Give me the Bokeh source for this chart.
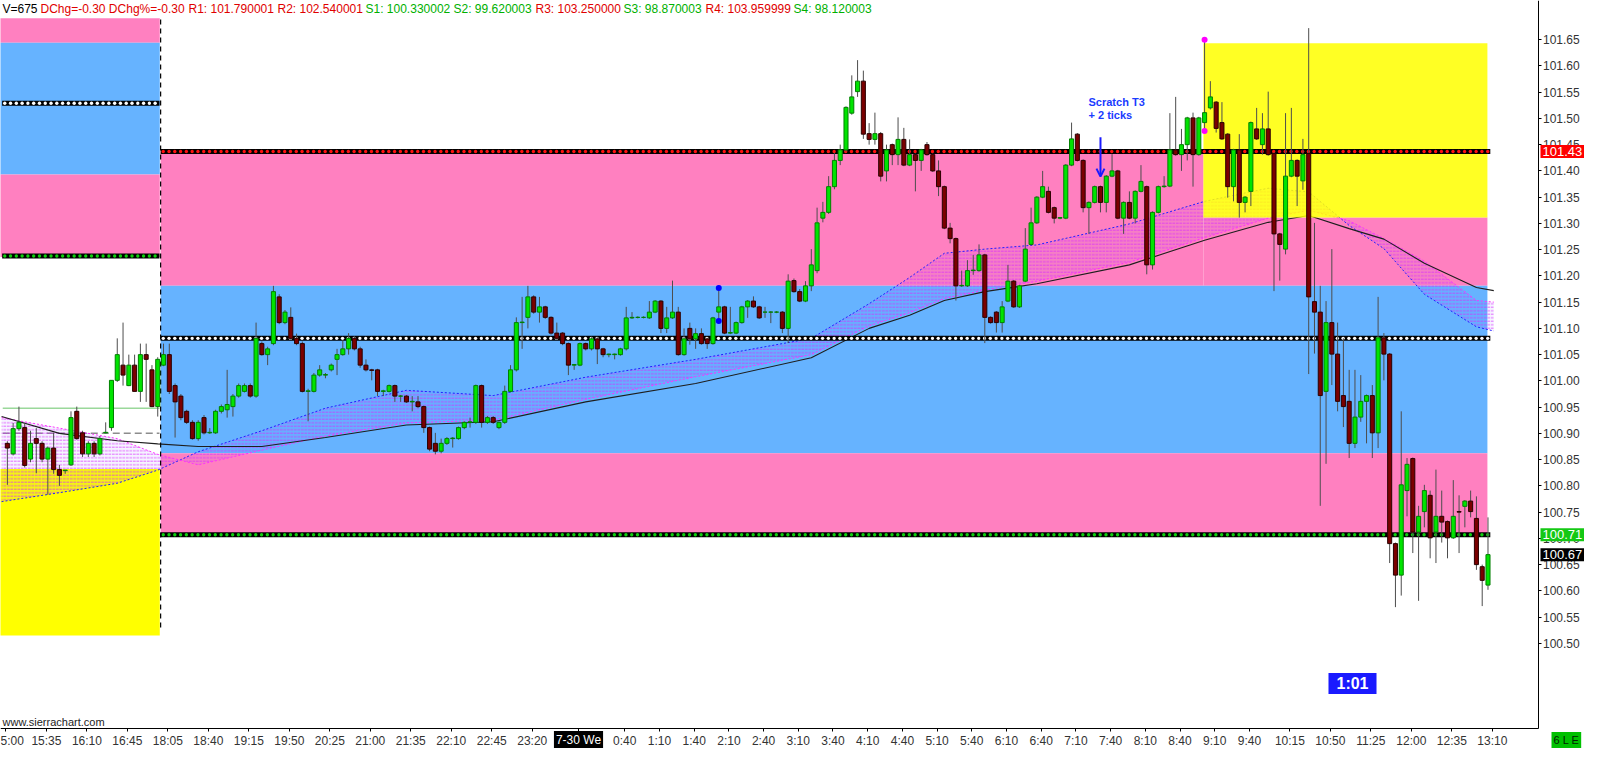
import numpy as np
from bokeh.plotting import figure
from bokeh.models import (ColumnDataSource, Range1d, FixedTicker, NumeralTickFormatter,
                          LinearAxis, Label, Arrow, OpenHead)
from bokeh.embed import file_html
from bokeh.resources import INLINE

# ---------------------------------------------------------------- data
# 5 minute bars, index 0 = 15:35 of the previous session
bar_index = list(range(-6, 251))

opens = [
    # -6 .. 20 (previous session)
    100.881, 100.861, 100.909, 100.911, 100.851, 100.890, 100.881, 100.851, 100.872, 100.831,
    100.829, 100.840, 100.942, 100.901, 100.861, 100.881, 100.861, 100.901, 100.911, 101.001,
    101.030, 100.991, 101.030, 100.980, 101.050, 101.021, 100.951,
    # 21 .. 49
    101.030, 101.050, 100.991, 100.971, 100.942, 100.921, 100.890, 100.930, 100.901, 100.901,
    100.942, 100.945, 100.951, 100.971, 100.980, 100.991, 100.971, 101.071, 101.050, 101.071,
    101.160, 101.111, 101.121, 101.081, 101.071, 100.980, 100.980, 101.011, 101.011,
    # 50 .. 93
    101.021, 101.041, 101.050, 101.061, 101.081, 101.061, 101.030, 101.021, 101.021, 100.980,
    100.980, 100.991, 100.971, 100.971, 100.960, 100.960, 100.951, 100.911, 100.881, 100.866,
    100.881, 100.890, 100.890, 100.911, 100.921, 100.921, 100.991, 100.921, 100.930, 100.911,
    100.921, 100.980, 101.021, 101.111, 101.121, 101.160, 101.131, 101.141, 101.121, 101.091,
    101.091, 101.071, 101.030, 101.030,
    # 94 .. 133
    101.071, 101.061, 101.080, 101.061, 101.050, 101.050, 101.050, 101.061, 101.120, 101.121,
    101.121, 101.120, 101.131, 101.152, 101.100, 101.120, 101.131, 101.050, 101.100, 101.080,
    101.090, 101.080, 101.071, 101.131, 101.141, 101.091, 101.091, 101.111, 101.141, 101.152,
    101.141, 101.131, 101.131, 101.131, 101.131, 101.100, 101.191, 101.170, 101.152, 101.181,
    # 134 .. 172
    101.210, 101.310, 101.321, 101.370, 101.420, 101.440, 101.510, 101.551, 101.571, 101.471,
    101.460, 101.471, 101.400, 101.450, 101.431, 101.460, 101.411, 101.431, 101.420, 101.450,
    101.431, 101.400, 101.370, 101.291, 101.271, 101.181, 101.181, 101.210, 101.210, 101.240,
    101.121, 101.131, 101.111, 101.152, 101.190, 101.141, 101.190, 101.260, 101.301,
    # 173 .. 215
    101.350, 101.361, 101.330, 101.310, 101.310, 101.411, 101.470, 101.420, 101.330, 101.340,
    101.370, 101.340, 101.390, 101.400, 101.310, 101.340, 101.310, 101.361, 101.370, 101.221,
    101.321, 101.370, 101.371, 101.440, 101.431, 101.450, 101.501, 101.431, 101.492, 101.520,
    101.531, 101.492, 101.470, 101.370, 101.440, 101.340, 101.361, 101.480, 101.450, 101.480,
    101.433, 101.280, 101.251,
    # 216 .. 250
    101.390, 101.420, 101.381, 101.433, 101.151, 101.131, 100.980, 101.111, 101.051, 100.972,
    100.961, 100.881, 100.931, 100.961, 100.972, 100.901, 101.082, 101.051, 100.690, 100.630,
    100.791, 100.852, 100.712, 100.751, 100.782, 100.712, 100.742, 100.732, 100.701, 100.751,
    100.761, 100.771, 100.738, 100.646, 100.611,
]

highs = [
    100.885, 100.920, 100.951, 100.920, 100.905, 100.910, 100.885, 100.875, 100.901, 100.840,
    100.830, 100.942, 100.951, 100.905, 100.885, 100.885, 100.895, 100.921, 101.001, 101.081,
    101.111, 101.050, 101.050, 101.071, 101.071, 101.030, 101.045,
    101.071, 101.071, 100.995, 100.975, 100.945, 100.925, 100.925, 100.935, 100.910, 100.945,
    100.955, 101.021, 100.975, 100.995, 100.995, 100.995, 101.111, 101.075, 101.065, 101.181,
    101.165, 101.135, 101.140, 101.090, 101.075, 100.985, 101.015, 101.030, 101.015,
    101.033, 101.061, 101.078, 101.091, 101.085, 101.065, 101.041, 101.023, 101.023, 100.983,
    100.993, 100.993, 100.973, 100.973, 100.971, 100.971, 100.953, 100.913, 100.901, 100.890,
    100.893, 100.893, 100.913, 100.923, 100.930, 100.993, 100.993, 100.933, 100.933, 100.923,
    100.991, 101.030, 101.121, 101.160, 101.181, 101.163, 101.160, 101.143, 101.123, 101.111,
    101.093, 101.073, 101.032, 101.073,
    101.073, 101.083, 101.083, 101.063, 101.052, 101.052, 101.063, 101.141, 101.131, 101.123,
    101.123, 101.152, 101.154, 101.154, 101.141, 101.191, 101.141, 101.100, 101.111, 101.100,
    101.100, 101.082, 101.122, 101.177, 101.143, 101.141, 101.113, 101.143, 101.154, 101.161,
    101.143, 101.141, 101.133, 101.133, 101.133, 101.203, 101.195, 101.175, 101.190, 101.251,
    101.330, 101.341, 101.390, 101.434, 101.450, 101.523, 101.582, 101.611, 101.591, 101.491,
    101.511, 101.474, 101.450, 101.452, 101.502, 101.482, 101.460, 101.433, 101.442, 101.455,
    101.433, 101.420, 101.372, 101.301, 101.273, 101.210, 101.230, 101.240, 101.260, 101.242,
    101.123, 101.133, 101.152, 101.221, 101.192, 101.183, 101.291, 101.330, 101.352,
    101.400, 101.370, 101.332, 101.312, 101.413, 101.492, 101.472, 101.422, 101.342, 101.372,
    101.372, 101.392, 101.432, 101.402, 101.342, 101.361, 101.363, 101.411, 101.372, 101.323,
    101.372, 101.390, 101.510, 101.541, 101.480, 101.503, 101.511, 101.503, 101.650, 101.571,
    101.533, 101.531, 101.472, 101.442, 101.470, 101.352, 101.494, 101.520, 101.510, 101.551,
    101.435, 101.282, 101.510,
    101.520, 101.422, 101.461, 101.672, 101.301, 101.181, 101.152, 101.251, 101.111, 101.081,
    101.021, 101.021, 101.011, 100.974, 100.992, 101.160, 101.091, 101.053, 100.692, 100.942,
    100.853, 100.854, 100.762, 100.802, 100.791, 100.831, 100.791, 100.734, 100.811, 100.782,
    100.773, 100.791, 100.780, 100.650, 100.740,
]

lows = [
    100.802, 100.858, 100.905, 100.835, 100.845, 100.824, 100.845, 100.783, 100.823, 100.800,
    100.823, 100.838, 100.888, 100.855, 100.855, 100.855, 100.858, 100.900, 100.905, 100.998,
    100.991, 100.990, 100.980, 100.960, 100.960, 100.950, 100.932,
    101.028, 100.975, 100.892, 100.925, 100.918, 100.888, 100.886, 100.898, 100.899, 100.899,
    100.938, 100.930, 100.932, 100.968, 100.978, 100.968, 100.968, 101.048, 101.030, 101.068,
    101.108, 101.108, 101.078, 101.068, 100.978, 100.923, 100.978, 101.008, 101.005,
    101.018, 101.011, 101.048, 101.050, 101.058, 101.025, 101.018, 101.001, 100.971, 100.971,
    100.978, 100.960, 100.960, 100.958, 100.942, 100.948, 100.901, 100.866, 100.860, 100.862,
    100.878, 100.873, 100.888, 100.908, 100.911, 100.918, 100.911, 100.918, 100.918, 100.908,
    100.918, 100.978, 101.018, 101.061, 101.100, 101.128, 101.111, 101.118, 101.088, 101.078,
    101.068, 101.011, 101.021, 101.028,
    101.058, 101.058, 101.032, 101.045, 101.045, 101.041, 101.048, 101.058, 101.118, 101.119,
    101.119, 101.118, 101.129, 101.091, 101.091, 101.118, 101.048, 101.048, 101.069, 101.061,
    101.069, 101.061, 101.069, 101.114, 101.089, 101.089, 101.089, 101.109, 101.120, 101.139,
    101.118, 101.120, 101.110, 101.129, 101.091, 101.072, 101.168, 101.150, 101.150, 101.171,
    101.205, 101.302, 101.318, 101.365, 101.411, 101.437, 101.507, 101.541, 101.461, 101.450,
    101.450, 101.380, 101.380, 101.411, 101.411, 101.409, 101.409, 101.361, 101.400, 101.429,
    101.398, 101.352, 101.289, 101.262, 101.153, 101.179, 101.179, 101.202, 101.208, 101.072,
    101.109, 101.092, 101.092, 101.150, 101.139, 101.139, 101.188, 101.258, 101.299,
    101.348, 101.319, 101.300, 101.308, 101.308, 101.409, 101.418, 101.321, 101.280, 101.338,
    101.321, 101.321, 101.388, 101.308, 101.280, 101.308, 101.300, 101.359, 101.203, 101.212,
    101.319, 101.368, 101.369, 101.429, 101.400, 101.420, 101.370, 101.429, 101.476, 101.517,
    101.473, 101.459, 101.349, 101.342, 101.311, 101.321, 101.333, 101.459, 101.431, 101.429,
    101.171, 101.191, 101.241,
    101.388, 101.333, 101.364, 101.013, 101.052, 100.762, 100.842, 100.992, 100.942, 100.912,
    100.853, 100.872, 100.922, 100.881, 100.853, 100.872, 101.001, 100.653, 100.569, 100.591,
    100.742, 100.672, 100.581, 100.721, 100.662, 100.653, 100.692, 100.662, 100.699, 100.672,
    100.721, 100.740, 100.640, 100.571, 100.602,
]

closes = [
    100.872, 100.909, 100.921, 100.839, 100.881, 100.881, 100.851, 100.872, 100.831, 100.820,
    100.830, 100.930, 100.890, 100.861, 100.881, 100.861, 100.890, 100.902, 101.001, 101.050,
    101.011, 101.030, 100.980, 101.050, 101.041, 100.951, 101.041,
    101.050, 100.980, 100.960, 100.930, 100.921, 100.890, 100.921, 100.901, 100.902, 100.942,
    100.951, 100.955, 100.971, 100.991, 100.991, 100.971, 101.081, 101.050, 101.061, 101.170,
    101.111, 101.131, 101.081, 101.071, 100.980, 100.981, 101.011, 101.021, 101.012,
    101.030, 101.050, 101.061, 101.081, 101.061, 101.030, 101.021, 101.020, 100.980, 100.981,
    100.991, 100.971, 100.971, 100.960, 100.961, 100.951, 100.911, 100.870, 100.866, 100.881,
    100.890, 100.891, 100.911, 100.921, 100.922, 100.991, 100.921, 100.930, 100.921, 100.921,
    100.980, 101.021, 101.111, 101.112, 101.160, 101.131, 101.141, 101.121, 101.091, 101.081,
    101.071, 101.030, 101.031, 101.071,
    101.061, 101.080, 101.061, 101.050, 101.051, 101.051, 101.061, 101.120, 101.121, 101.121,
    101.121, 101.131, 101.152, 101.100, 101.120, 101.131, 101.050, 101.080, 101.080, 101.090,
    101.071, 101.071, 101.120, 101.141, 101.091, 101.092, 101.111, 101.141, 101.152, 101.141,
    101.120, 101.131, 101.131, 101.131, 101.100, 101.190, 101.170, 101.152, 101.181, 101.221,
    101.301, 101.321, 101.370, 101.420, 101.440, 101.521, 101.541, 101.571, 101.470, 101.460,
    101.471, 101.390, 101.440, 101.431, 101.460, 101.411, 101.431, 101.420, 101.440, 101.431,
    101.400, 101.370, 101.291, 101.271, 101.181, 101.182, 101.210, 101.211, 101.240, 101.121,
    101.111, 101.111, 101.141, 101.190, 101.141, 101.181, 101.251, 101.301, 101.350,
    101.370, 101.321, 101.310, 101.311, 101.411, 101.461, 101.420, 101.330, 101.340, 101.370,
    101.340, 101.390, 101.400, 101.310, 101.340, 101.310, 101.361, 101.380, 101.221, 101.321,
    101.370, 101.371, 101.440, 101.431, 101.450, 101.501, 101.431, 101.501, 101.511, 101.541,
    101.481, 101.461, 101.370, 101.440, 101.340, 101.350, 101.492, 101.461, 101.480, 101.431,
    101.280, 101.260, 101.390,
    101.420, 101.390, 101.431, 101.160, 101.131, 100.972, 101.111, 101.051, 100.961, 100.951,
    100.881, 100.931, 100.961, 100.972, 100.901, 101.082, 101.051, 100.690, 100.630, 100.802,
    100.841, 100.712, 100.742, 100.791, 100.701, 100.742, 100.731, 100.701, 100.742, 100.750,
    100.771, 100.751, 100.650, 100.620, 100.669,
]

# time axis
time_labels = ["5:00", "15:35", "16:10", "16:45", "18:05", "18:40", "19:15", "19:50", "20:25",
               "21:00", "21:35", "22:10", "22:45", "23:20", "7-30 We", "0:40", "1:10", "1:40",
               "2:10", "2:40", "3:10", "3:40", "4:10", "4:40", "5:10", "5:40", "6:10", "6:40",
               "7:10", "7:40", "8:10", "8:40", "9:10", "9:40", "10:15", "10:50", "11:25",
               "12:00", "12:35", "13:10"]
label_bars = [-7, 0, 7, 14, 21, 28, 35, 42, 49, 56, 63, 70, 77, 84, 92, 100, 106, 112, 118,
              124, 130, 136, 142, 148, 154, 160, 166, 172, 178, 184, 190, 196, 202, 208, 215,
              222, 229, 236, 243, 250]
price_ticks = [100.50, 100.55, 100.60, 100.65, 100.70, 100.75, 100.80, 100.85, 100.90, 100.95,
               101.00, 101.05, 101.10, 101.15, 101.20, 101.25, 101.30, 101.35, 101.40, 101.45,
               101.50, 101.55, 101.60, 101.65]

# previous session zones (pink / blue / pink / yellow)
prev_zone_bottom = [101.644, 101.393, 101.236, 100.515]
prev_zone_top = [101.691, 101.644, 101.393, 100.832]
# current session zones (upper pink split by the yellow box, blue, lower pink)
cur_zone_left = [20.5, 200.8, 20.5, 20.5]
cur_zone_right = [200.8, 249.9, 249.9, 249.9]
cur_zone_bottom = [101.181, 101.181, 100.862, 100.707]
cur_zone_top = [101.437, 101.311, 101.181, 100.862]
# yellow box
box_bars = [200.8, 249.9]
box_prices = [101.311, 101.643]

# dotted level lines
cur_levels = [101.437, 101.081, 100.707]
prev_levels = [101.529, 101.238]
prev_green_line = 100.948
prev_grey_line = 100.900

# moving average ribbon, read at sample bars
ribbon_bars = [-7, 3, 13, 20, 27, 38, 49, 63, 78, 94, 113, 133, 143, 150, 156, 163, 172, 188,
               201, 212, 219, 226, 232, 239, 248, 251]
ribbon_fast = [100.770, 100.787, 100.805, 100.830, 100.865, 100.905, 100.948, 100.982, 100.972,
               101.007, 101.041, 101.081, 101.147, 101.197, 101.243, 101.251, 101.259, 101.299,
               101.342, 101.367, 101.360, 101.296, 101.252, 101.165, 101.103, 101.095]
ribbon_slow = [100.930, 100.910, 100.890, 100.860, 100.840, 100.868, 100.895, 100.920, 100.925,
               100.965, 101.008, 101.050, 101.105, 101.130, 101.157, 101.173, 101.190, 101.226,
               101.273, 101.310, 101.325, 101.305, 101.271, 101.228, 101.153, 101.150]
ma_black = [100.932, 100.900, 100.886, 100.880, 100.875, 100.875, 100.892, 100.916, 100.922,
            100.960, 100.995, 101.044, 101.100, 101.125, 101.153, 101.170, 101.185, 101.221,
            101.268, 101.302, 101.315, 101.290, 101.270, 101.224, 101.178, 101.172]

# markers
blue_dot_bar, blue_dot_prices = 117, [101.177, 101.114]
magenta_dot_bar, magenta_dot_prices = 201, [101.650, 101.476]
arrow_bar, arrow_prices = 183, [101.464, 101.389]

header_texts = ["V=675", "DChg=-0.30 DChg%=-0.30", "R1: 101.790001", "R2: 102.540001",
                "S1: 100.330002", "S2: 99.620003", "R3: 103.250000", "S3: 98.870003",
                "R4: 103.959999", "S4: 98.120003"]

# ---------------------------------------------------------------- figure
# the frame covers the whole canvas; the axes sit at fixed places inside it
FW, FH = 1584, 748
X0 = -7.187
DX = (258.56 - X0) / 1537          # bars per pixel
Y1 = 101.7246
DY = (101.7246 - 100.3378) / 728   # price per pixel
X1 = X0 + FW * DX
Y0 = Y1 - FH * DY
AXIS_PX, AXIS_PY = 1537.5, 728


def px_x(px):
    return X0 + px * DX


def px_y(py):
    return Y1 - py * DY


PINK, BLUE, YELLOW = "#ff80c0", "#66b3ff", "#ffff00"
FONT = "Liberation Sans"

p = figure(frame_width=FW, frame_height=FH, x_range=Range1d(X0, X1), y_range=Range1d(Y0, Y1),
           x_axis_location=None, y_axis_location=None, toolbar_location=None,
           output_backend="svg", min_border=0,
           background_fill_color="white", border_fill_color="white")
p.outline_line_color = None
p.grid.visible = False

# zones
p.quad(left=-7.3, right=20.35, bottom=prev_zone_bottom, top=prev_zone_top,
       fill_color=[PINK, BLUE, PINK, YELLOW], line_color=None)
p.quad(left=cur_zone_left, right=cur_zone_right, bottom=cur_zone_bottom, top=cur_zone_top,
       fill_color=[PINK, PINK, BLUE, PINK], line_color=None)

# previous session reference lines
p.segment(x0=-6.8, y0=prev_green_line, x1=20.3, y1=prev_green_line,
          line_color="#9ad89a", line_width=1.5)
p.segment(x0=-6.8, y0=prev_grey_line, x1=20.3, y1=prev_grey_line,
          line_color="#8c8c8c", line_width=1.5, line_dash="7 4")

# ribbon
p.varea(x=ribbon_bars, y1=ribbon_fast, y2=ribbon_slow, fill_color="#8060ff", fill_alpha=0.08,
        hatch_pattern="horizontal_dash", hatch_color="#d828ff", hatch_alpha=0.65,
        hatch_scale=3.5, hatch_weight=1)
p.line(ribbon_bars, ribbon_fast, line_color="#2020ff", line_width=1, line_dash="2 2")
p.line(ribbon_bars, ribbon_slow, line_color="#ff30ff", line_width=1, line_dash="2 2")
p.line(ribbon_bars, ma_black, line_color="#1e1e1e", line_width=1.1)

# yellow box over the ribbon
p.quad(left=box_bars[0], right=box_bars[1], bottom=box_prices[0], top=box_prices[1],
       fill_color=YELLOW, fill_alpha=0.86, line_color=None)


def dotted_level(level, x0, x1, dot_color):
    p.segment(x0=x0, y0=level, x1=x1, y1=level, line_color="black", line_width=5)
    xs = np.arange(x0 + 0.45, x1, 1.0)
    p.scatter(xs, np.full(len(xs), level), size=3.4, fill_color=dot_color, line_color=None)


for lv, col in zip(cur_levels, ["#ff1010", "white", "#10d010"]):
    dotted_level(lv, 20.5, 250.4, col)
for lv, col in zip(prev_levels, ["white", "#10d010"]):
    dotted_level(lv, -6.9, 20.3, col)

# session separator
p.segment(x0=20.5, y0=100.53, x1=20.5, y1=101.69, line_color="black", line_width=1.2,
          line_dash="5 4")

# candles
o = np.array(opens)
c = np.array(closes)
up = c >= o
src = ColumnDataSource(dict(
    x=bar_index,
    high=np.maximum(np.array(highs), np.maximum(o, c)),
    low=np.minimum(np.array(lows), np.minimum(o, c)),
    top=np.maximum(o, c),
    bottom=np.minimum(o, c),
    fill=["#00e400" if u else "#7a0000" for u in up],
    edge=["#008000" if u else "#2a0000" for u in up],
))
p.segment(x0="x", y0="high", x1="x", y1="low", source=src, line_color="#4d4d4d", line_width=1)
p.vbar(x="x", top="top", bottom="bottom", width=0.7, source=src,
       fill_color="fill", line_color="edge", line_width=1)

# markers
p.scatter([blue_dot_bar] * 2, blue_dot_prices, size=6, fill_color="#0000ff", line_color=None)
p.scatter([magenta_dot_bar] * 2, magenta_dot_prices, size=6, fill_color="#ff00ff", line_color=None)
p.add_layout(Arrow(end=OpenHead(size=8, line_color="#1a1aff", line_width=2),
                   x_start=arrow_bar, y_start=arrow_prices[0], x_end=arrow_bar, y_end=arrow_prices[1],
                   line_color="#1a1aff", line_width=2))
for txt, py in [("Scratch T3", 101.0), ("+ 2 ticks", 114.5)]:
    p.add_layout(Label(x=px_x(1088), y=px_y(py), text=txt, text_font=FONT,
                       text_font_size="11px", text_font_style="bold", text_color="#1a3cff",
                       text_baseline="middle"))

# axes, placed inside the full-canvas frame
yaxis = LinearAxis(fixed_location=px_x(AXIS_PX), bounds=(px_y(AXIS_PY), Y1),
                   ticker=FixedTicker(ticks=price_ticks),
                   formatter=NumeralTickFormatter(format="0.00"))
xaxis = LinearAxis(fixed_location=px_y(AXIS_PY), bounds=(X0, px_x(AXIS_PX)),
                   ticker=FixedTicker(ticks=[b + 0.75 for b in label_bars]))
xaxis.major_label_overrides = {b + 0.75: ("" if t == "7-30 We" else t)
                               for b, t in zip(label_bars, time_labels)}
for ax in (xaxis, yaxis):
    ax.axis_line_color = "black"
    ax.major_tick_line_color = "black"
    ax.major_tick_out = 3
    ax.major_tick_in = 0
    ax.minor_tick_out = 0
    ax.minor_tick_in = 0
    ax.major_label_standoff = 2
    ax.major_label_text_font = FONT
    ax.major_label_text_font_size = "12px"
    ax.major_label_text_color = "#333333"
p.add_layout(yaxis, "right")
p.add_layout(xaxis, "below")

p.add_layout(Label(x=92.75, y=px_y(739.5), text="7-30 We", text_font=FONT, text_font_size="12px",
                   text_color="white", text_align="center", text_baseline="middle",
                   background_fill_color="black", padding=2))

# price flags on the axis
for lv, txt, bg in [(cur_levels[0], "101.43", "#ff0000"), (cur_levels[2], "100.71", "#14c814"),
                    (closes[-1], "100.67", "black")]:
    p.add_layout(Label(x=px_x(1540), y=lv, text=txt, text_font=FONT, text_font_size="13px",
                       text_color="white", text_baseline="middle", background_fill_color=bg,
                       padding=2))

# header line
header_x = [2, 40, 188, 277, 365, 453, 535, 623, 705, 793]
header_colors = ["black", "#e00000", "#e00000", "#e00000", "#00b000", "#00b000",
                 "#e00000", "#00b000", "#e00000", "#00b000"]
for txt, hx, col in zip(header_texts, header_x, header_colors):
    p.add_layout(Label(x=px_x(hx), y=px_y(8), text=txt, text_font=FONT, text_font_size="12px",
                       text_color=col, text_baseline="middle"))

p.add_layout(Label(x=px_x(2), y=px_y(721), text="www.sierrachart.com", text_font=FONT,
                   text_font_size="11px", text_color="#222222", text_baseline="middle"))
p.add_layout(Label(x=px_x(1352), y=px_y(683), text="1:01", text_font=FONT, text_font_size="16px",
                   text_font_style="bold", text_color="white", text_align="center",
                   text_baseline="middle", background_fill_color="#1a1aff", padding=(8, 2)))
p.add_layout(Label(x=px_x(1551), y=px_y(739.5), text="6 L E", text_font=FONT,
                   text_font_size="11px", text_color="#002000", text_baseline="middle",
                   background_fill_color="#00c000", padding=2))

open("out.html", "w").write(file_html(p, INLINE))
